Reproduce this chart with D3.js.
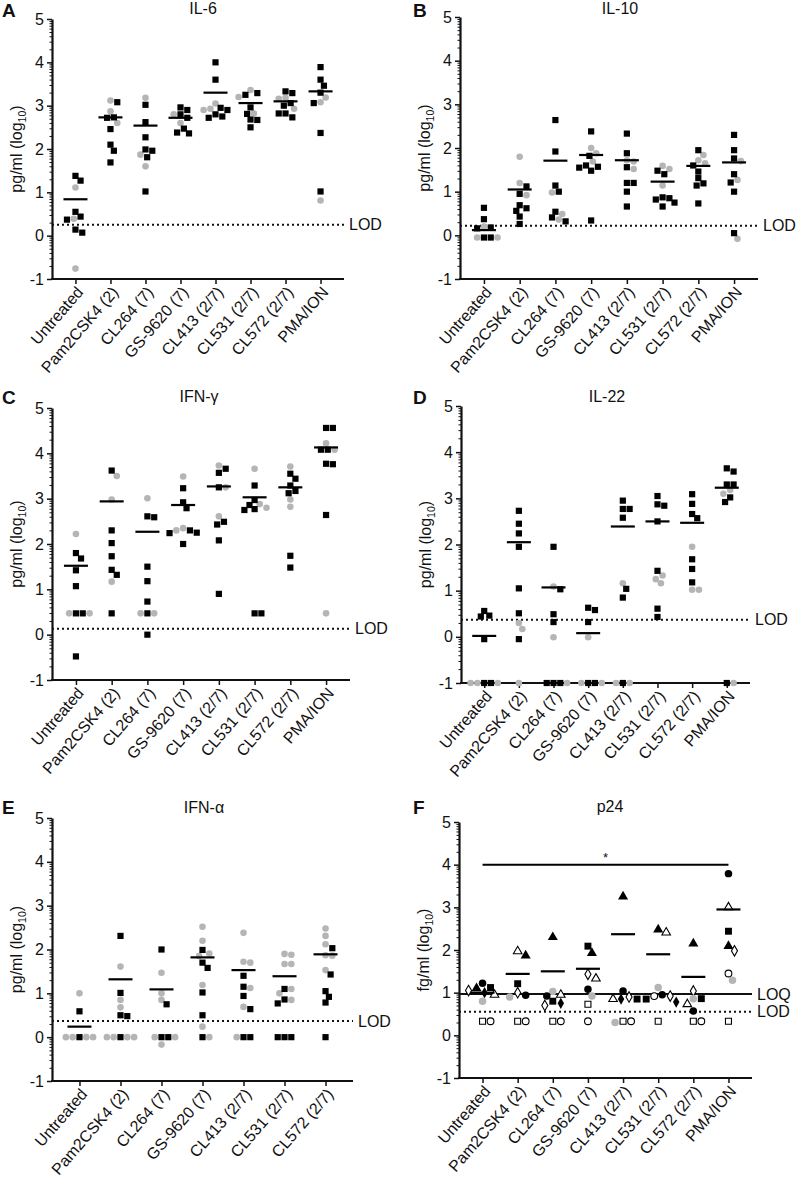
<!DOCTYPE html>
<html><head><meta charset="utf-8">
<script src="https://cdn.jsdelivr.net/npm/d3@7"></script>
<style>body{margin:0;background:#fff} text{font-family:"Liberation Sans",Arial,sans-serif;fill:#111}</style>
</head><body><svg id="c" width="797" height="1182"></svg>
<script>
const categories = ["Untreated","Pam2CSK4 (2)","CL264 (7)","GS-9620 (7)","CL413 (2/7)","CL531 (2/7)","CL572 (2/7)","PMA/ION"];
const categoriesE = categories.slice(0, 7);
const yTicks = [-1, 0, 1, 2, 3, 4, 5];

// A: IL-6
const il6Squares = [[1.38,1.27,0.55,0.44,0.37,0.14,0.07],[3.08,2.73,2.72,2.46,2.10,1.96,1.69],[3.02,2.62,2.27,1.99,1.96,1.81,1.02],[2.96,2.90,2.80,2.72,2.47,2.38,2.36],[4.00,3.60,2.95,2.90,2.80,2.75,2.72],[3.29,3.25,2.96,2.81,2.68,2.67,2.50],[3.33,3.29,3.06,3.00,2.82,2.82,2.73],[3.89,3.60,3.46,3.30,3.06,2.37,1.02]];
const il6Circles = [[1.11,0.39,-0.76],[3.12,2.87,2.60],[3.18,1.87,1.60],[2.80,2.60],[3.05,2.93,2.90],[3.36,3.20,2.82],[3.18,3.16,2.93],[3.19,3.08,0.81]];
const il6Means = [0.84,2.73,2.54,2.72,3.30,3.06,3.10,3.33];
const il6Lod = 0.25;

// B: IL-10
const il10Squares = [[0.63,0.37,0.18,0.16,-0.05,-0.05],[1.12,0.95,0.69,0.62,0.56,0.43,0.26],[2.64,1.92,1.14,1.00,0.54,0.41,0.32],[2.38,1.82,1.60,1.57,1.55,1.48,0.34],[2.33,1.88,1.56,1.20,1.20,1.00,0.66],[1.48,1.40,0.87,0.85,0.82,0.75,0.66],[1.95,1.60,1.46,1.31,1.19,1.14,0.73],[2.30,1.95,1.76,1.40,1.21,1.00,0.05]];
const il10Circles = [[0.20,-0.05,-0.05],[1.80,1.20,0.92],[0.98,0.49,0.36],[2.00,1.88,1.69],[1.72,1.69,1.52],[1.59,1.52,1.14],[1.84,1.72,1.65],[1.70,1.27,-0.08]];
const il10Means = [0.12,1.05,1.71,1.84,1.72,1.23,1.59,1.67];
const il10Lod = 0.22;

// C: IFN-gamma
const ifngSquares = [[1.80,1.68,1.42,1.07,0.47,0.47,-0.48],[3.62,2.30,2.02,1.73,1.43,1.32,0.47],[2.61,2.59,1.50,1.18,0.73,0.47,0.00],[3.23,2.92,2.79,2.30,2.25,2.24,2.00],[3.66,3.57,3.25,2.49,2.43,2.08,0.90],[3.29,2.97,2.86,2.77,2.75,0.47,0.47],[3.55,3.44,3.29,3.17,3.12,1.74,1.48],[4.56,4.56,4.08,4.08,3.77,3.76,2.64]];
const ifngCircles = [[2.22,0.47,0.47],[3.50,2.98,1.17],[3.01,0.47,0.47],[3.49,2.35,2.30],[3.73,3.25,2.61],[3.66,2.88,2.80],[3.71,2.98,2.82],[4.22,4.08,0.47]];
const ifngMeans = [1.52,2.94,2.27,2.86,3.27,3.03,3.25,4.13];
const ifngLod = 0.13;

// D: IL-22
const il22Squares = [[0.56,0.46,0.44,-0.05,-1,-1],[2.73,2.45,2.24,1.95,1.05,0.51,-0.05],[1.95,1.03,0.49,0.32,-1,-1,-1],[0.63,0.58,0.32,-1,-1],[2.95,2.77,2.77,2.58,1.04,0.85,-1],[3.05,2.87,2.84,2.50,1.43,0.61,0.43],[3.09,2.88,2.66,2.57,1.68,1.47,1.18],[3.65,3.58,3.30,3.30,3.02,2.92,-1]];
const il22Circles = [[-1,-1,-1],[0.30,0.17,-1],[1.09,-0.01,-1],[-0.01,-1,-1],[1.16,-1,-1],[1.33,1.25,1.16],[1.95,1.02,1.02],[3.18,3.10,-1]];
const il22Means = [0.02,2.05,1.07,0.08,2.39,2.50,2.47,3.23];
const il22Lod = 0.37;

// E: IFN-alpha
const ifnaSquares = [[0.59,0],[2.31,1.01,0.50,0.48,0],[2.00,0.75,0,0],[1.99,1.70,1.58,1.02,0.50,0],[1.40,1.15,0.94,0.64,0,0],[1.10,0.86,0.77,0,0,0],[2.03,1.43,1.05,0.92,0.79,0]];
const ifnaCircles = [[1.00,0,0,0,0],[1.61,0.85,0.68,0,0,0,0],[1.47,1.00,0.85,0,0,-0.17],[2.52,2.20,1.91,1.85,1.19,0.24,0],[2.38,1.72,1.70,1.12,0.69,0],[1.90,1.88,1.67,1.67,1.10,1.00,0.85],[2.48,2.31,2.12,1.87,1.86,1.53]];
const ifnaMeans = [0.24,1.32,1.09,1.82,1.53,1.39,1.89];
const ifnaLod = 0.37;

// F: p24 (one array per donor marker)
const p24TriFilled  = [1.10,1.87,2.30,1.93,3.25,2.48,2.15,2.09];
const p24TriOpen    = [0.95,1.97,0.95,1.33,0.85,2.41,0.73,3.00];
const p24SqFilled   = [1.12,1.21,0.80,2.09,0.85,0.85,0.86,2.44];
const p24SqOpen     = [0.33,0.33,0.33,0.73,0.33,0.33,0.33,0.33];
const p24CircFilled = [1.22,0.94,0.92,1.08,1.04,0.95,0.57,3.79];
const p24CircOpen   = [0.33,0.33,0.33,0.33,0.33,0.92,0.33,1.45];
const p24DiaOpen    = [1.05,1.00,0.70,1.43,0.90,0.92,1.04,1.98];
const p24DiaFilled  = [1.00,null,0.75,null,0.85,0.78,null,null];
const p24CircGray   = [0.80,0.90,1.03,0.92,0.30,1.12,0.86,1.29];
const p24Means = [1.00,1.44,1.50,1.56,2.37,1.90,1.37,2.95];
const p24Loq = 0.97;
const p24Lod = 0.55;
const p24SigLevel = 4.0;

const GRAY = "#b5b5b5";
const FS = 16;
const svg = d3.select("#c");
svg.append("rect").attr("width",797).attr("height",1182).attr("fill","#fff");

function swarm(items, s) {
  items.sort((a,b)=>a.py-b.py);
  const placed = [];
  const cands = [0];
  for (let k=1;k<40;k++){ cands.push(k*s/4, -k*s/4); }
  for (const it of items) {
    let best = 0;
    for (const dx of cands) {
      if (placed.every(p => Math.hypot(p.dx-dx, p.py-it.py) >= s*0.95)) { best = dx; break; }
    }
    it.dx = best; placed.push(it);
  }
  return items;
}

function drawPanel(o) {
  const g = svg.append("g");
  const x = d3.scalePoint().domain(o.cats).range([o.x0, o.x1]).padding(0.67);
  const y = d3.scaleLinear().domain([-1,5]).range([o.yb, o.yt]);

  // minor ticks
  const minor = [];
  for (let n=-1;n<5;n++) for (let k=2;k<=9;k++) minor.push(n+Math.log10(k));
  g.append("g").attr("transform",`translate(${o.x0},0)`)
    .call(d3.axisLeft(y).tickValues(minor).tickSize(2.5).tickFormat(""))
    .call(s=>{s.select(".domain").remove(); s.selectAll("line").attr("stroke","#111").attr("stroke-width",1);});
  const ya = g.append("g").attr("transform",`translate(${o.x0},0)`)
    .call(d3.axisLeft(y).tickValues(yTicks).tickSize(5).tickSizeOuter(0).tickFormat(d=>String(d)));
  ya.select(".domain").attr("stroke","#111").attr("stroke-width",2.2);
  ya.selectAll("line").attr("stroke","#111").attr("stroke-width",1.5);
  ya.selectAll("text").attr("font-size",FS).attr("fill","#111");

  const xa = g.append("g").attr("transform",`translate(0,${o.yb})`)
    .call(d3.axisBottom(x).tickSize(5).tickSizeOuter(0));
  xa.select(".domain").attr("d",`M${o.x0-1},0H${o.x1}`).attr("stroke","#111").attr("stroke-width",2.2);
  xa.selectAll("line").attr("stroke","#111").attr("stroke-width",1.5);
  xa.selectAll("text").attr("font-size",FS).attr("fill","#111")
    .attr("x",0).attr("y",0).attr("dy","0.35em")
    .attr("transform","translate(4,10) rotate(-49)").style("text-anchor","end");

  // y label
  const yl = g.append("text").attr("font-size",FS)
    .attr("transform",`translate(${o.x0-30},${(o.yt+o.yb)/2}) rotate(-90)`).attr("text-anchor","middle");
  yl.append("tspan").text(o.unit + " (log");
  yl.append("tspan").attr("font-size",10.5).attr("dy",4).text("10");
  yl.append("tspan").attr("dy",-4).text(")");

  // title & letter
  g.append("text").attr("x",o.titleX).attr("y",o.titleY).attr("text-anchor","middle").attr("font-size",FS).text(o.title);
  g.append("text").attr("x",o.letterX).attr("y",o.letterY).attr("font-size",19).attr("font-weight","bold").text(o.letter);

  // LOD / LOQ lines
  g.append("line").attr("x1",o.x0).attr("x2",o.x1).attr("y1",y(o.lod)).attr("y2",y(o.lod))
    .attr("stroke","#111").attr("stroke-width",2).attr("stroke-dasharray","2,3");
  g.append("text").attr("x",o.x1+5).attr("y",y(o.lod)).attr("dy","0.35em").attr("font-size",FS).text("LOD");
  if (o.loq != null) {
    g.append("line").attr("x1",o.x0).attr("x2",o.x1).attr("y1",y(o.loq)).attr("y2",y(o.loq))
      .attr("stroke","#111").attr("stroke-width",2);
    g.append("text").attr("x",o.x1+5).attr("y",y(o.loq)).attr("dy","0.35em").attr("font-size",FS).text("LOQ");
  }

  // points
  const pg = g.append("g");
  if (o.series) {
    o.cats.forEach((c,i)=>{
      const items = [];
      o.series.forEach(se=>{
        const v = se.values[i];
        if (v != null) items.push({v, py:y(v), se});
      });
      swarm(items, 8);
      items.forEach(it=>{
        const se = it.se;
        pg.append("path").attr("d", d3.symbol().type(se.type).size(se.size)())
          .attr("transform",`translate(${x(c)+it.dx},${it.py})`)
          .attr("fill",se.fill).attr("stroke",se.stroke).attr("stroke-width",se.sw);
      });
    });
  } else {
    o.cats.forEach((c,i)=>{
      const items = [];
      o.squares[i].forEach(v=>items.push({v, py:y(v), t:"s"}));
      o.circles[i].forEach(v=>items.push({v, py:y(v), t:"c"}));
      swarm(items, 6.8);
      items.filter(d=>d.t==="c").forEach(it=>{
        pg.append("circle").attr("cx",x(c)+it.dx).attr("cy",it.py).attr("r",3.3).attr("fill",GRAY);
      });
      items.filter(d=>d.t==="s").forEach(it=>{
        pg.append("rect").attr("x",x(c)+it.dx-3.1).attr("y",it.py-3.1).attr("width",6.2).attr("height",6.2).attr("fill","#000");
      });
    });
  }
  // mean lines
  g.append("g").selectAll("line").data(o.means).join("line")
    .attr("x1",(d,i)=>x(o.cats[i])-12).attr("x2",(d,i)=>x(o.cats[i])+12)
    .attr("y1",d=>y(d)).attr("y2",d=>y(d)).attr("stroke","#000").attr("stroke-width",2.2);

  if (o.sig != null) {
    const xs = x(o.cats[0]), xe = x(o.cats[o.cats.length-1]);
    g.append("line").attr("x1",xs).attr("x2",xe).attr("y1",y(o.sig)).attr("y2",y(o.sig)).attr("stroke","#000").attr("stroke-width",2);
    g.append("text").attr("x",(xs+xe)/2).attr("y",y(o.sig)-3).attr("text-anchor","middle").attr("font-size",13).text("*");
  }
}

drawPanel({cats:categories, squares:il6Squares, circles:il6Circles, means:il6Means, lod:il6Lod,
  x0:52,x1:344,yt:19,yb:279,title:"IL-6",titleX:203,titleY:14,letter:"A",letterX:2,letterY:17,unit:"pg/ml"});
drawPanel({cats:categories, squares:il10Squares, circles:il10Circles, means:il10Means, lod:il10Lod,
  x0:460,x1:758,yt:17,yb:279,title:"IL-10",titleX:620,titleY:14,letter:"B",letterX:413,letterY:17,unit:"pg/ml"});
drawPanel({cats:categories, squares:ifngSquares, circles:ifngCircles, means:ifngMeans, lod:ifngLod,
  x0:52,x1:350,yt:408,yb:680,title:"IFN-γ",titleX:199,titleY:402,letter:"C",letterX:2,letterY:404,unit:"pg/ml"});
drawPanel({cats:categories, squares:il22Squares, circles:il22Circles, means:il22Means, lod:il22Lod,
  x0:461,x1:750,yt:406,yb:683,title:"IL-22",titleX:607,titleY:402,letter:"D",letterX:413,letterY:404,unit:"pg/ml"});
drawPanel({cats:categoriesE, squares:ifnaSquares, circles:ifnaCircles, means:ifnaMeans, lod:ifnaLod,
  x0:52,x1:353,yt:818,yb:1081,title:"IFN-α",titleX:204,titleY:813,letter:"E",letterX:2,letterY:814,unit:"pg/ml"});

const BLK = "#000";
drawPanel({cats:categories, means:p24Means, lod:p24Lod, loq:p24Loq, sig:p24SigLevel,
  series:[
    {values:p24CircGray, type:d3.symbolCircle, size:44, fill:GRAY, stroke:"none", sw:0},
    {values:p24SqOpen, type:d3.symbolSquare, size:36, fill:"#fff", stroke:BLK, sw:1.1},
    {values:p24CircOpen, type:d3.symbolCircle, size:36, fill:"#fff", stroke:BLK, sw:1.1},
    {values:p24DiaOpen, type:d3.symbolDiamond, size:32, fill:"#fff", stroke:BLK, sw:1.1},
    {values:p24DiaFilled, type:d3.symbolDiamond, size:36, fill:BLK, stroke:"none", sw:0},
    {values:p24TriOpen, type:d3.symbolTriangle, size:32, fill:"#fff", stroke:BLK, sw:1.1},
    {values:p24CircFilled, type:d3.symbolCircle, size:44, fill:BLK, stroke:"none", sw:0},
    {values:p24SqFilled, type:d3.symbolSquare, size:48, fill:BLK, stroke:"none", sw:0},
    {values:p24TriFilled, type:d3.symbolTriangle, size:44, fill:BLK, stroke:"none", sw:0}
  ],
  x0:459,x1:752,yt:822,yb:1078,title:"p24",titleX:610,titleY:812,letter:"F",letterX:413,letterY:814,unit:"fg/ml"});
</script></body></html>
